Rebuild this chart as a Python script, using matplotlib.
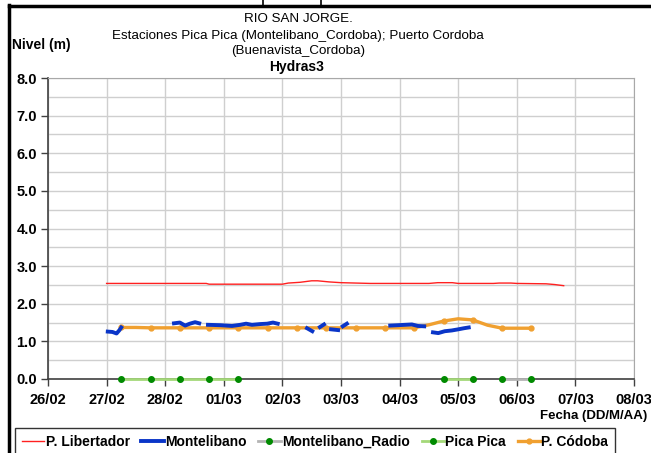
import datetime as dt

import matplotlib as mpl
import matplotlib.dates as mdates
import matplotlib.pyplot as plt
import numpy as np
from matplotlib.lines import Line2D

mpl.rcParams["font.family"] = ["Liberation Sans", "DejaVu Sans"]

START = dt.datetime(2023, 2, 26)

# time offsets are in days from 26/02 00:00
LIB_T = [1.0, 2.0, 2.7, 2.75, 3.5, 4.0, 4.1, 4.3, 4.5, 4.6, 4.8, 5.0, 5.5, 6.0, 6.5,
         6.65, 6.9, 7.0, 7.6, 7.7, 7.9, 8.0, 8.5, 8.65, 8.8]
LIB_V = [2.54, 2.54, 2.54, 2.52, 2.52, 2.52, 2.55, 2.57, 2.61, 2.61, 2.58, 2.56, 2.54, 2.54, 2.54,
         2.56, 2.56, 2.54, 2.54, 2.55, 2.55, 2.54, 2.53, 2.51, 2.48]

MONT_T = [1.02, 1.10, 1.17, 1.22, 1.25, 1.6,
          2.15, 2.25, 2.34, 2.42, 2.51, 2.58, 2.65,
          2.73, 2.94, 3.14, 3.28, 3.38, 3.48, 3.62, 3.74, 3.84, 3.92, 4.0,
          4.42, 4.51, 4.56,
          4.64, 4.71, 4.76,
          4.83, 4.95, 4.99,
          5.03, 5.10, 5.3,
          5.84, 5.97, 6.09, 6.21, 6.31, 6.42, 6.5,
          6.57, 6.66, 6.77, 6.89, 7.0, 7.10, 7.18]
MONT_V = [1.26, 1.25, 1.21, 1.30, 1.37, np.nan,
          1.48, 1.50, 1.42, 1.47, 1.51, 1.48, np.nan,
          1.44, 1.43, 1.41, 1.44, 1.47, 1.44, 1.46, 1.47, 1.50, 1.47, np.nan,
          1.35, 1.27, np.nan,
          1.38, 1.45, np.nan,
          1.32, 1.30, np.nan,
          1.40, 1.47, np.nan,
          1.42, 1.43, 1.44, 1.45, 1.41, 1.40, np.nan,
          1.24, 1.22, 1.27, 1.29, 1.32, 1.35, 1.37]

RADIO_T = [7.75, 8.25]
RADIO_V = [0.0, 0.0]

PICA_T = [1.25, 1.75, 2.25, 2.75, 3.25, 3.5, 6.75, 7.25]
PICA_V = [0.0, 0.0, 0.0, 0.0, 0.0, np.nan, 0.0, 0.0]

CORD_T = [1.25, 1.5, 1.75, 2.0, 2.25, 2.5, 2.75, 3.0, 3.25, 3.5, 3.75, 4.0, 4.25, 4.5, 4.75,
          5.0, 5.25, 5.5, 5.75, 6.0, 6.25, 6.5, 6.75, 7.0, 7.25, 7.5, 7.75, 8.0, 8.25]
CORD_V = [1.37, 1.37, 1.36, 1.36, 1.36, 1.36, 1.36, 1.36, 1.36, 1.36, 1.36, 1.36, 1.36, 1.36, 1.36,
          1.36, 1.36, 1.36, 1.36, 1.36, 1.36, 1.44, 1.54, 1.60, 1.57, 1.43, 1.35, 1.35, 1.35]

TITLE_LINES = ["RIO SAN JORGE.",
               "Estaciones Pica Pica (Montelibano_Cordoba); Puerto Cordoba",
               "(Buenavista_Cordoba)"]


def to_dates(offsets):
    return [START + dt.timedelta(days=d) for d in offsets]


W, H = 651, 453


def fx(px):
    return px / W


def fy(py):
    return 1 - py / H


fig = plt.figure(figsize=(W / 100, H / 100), dpi=100)
ax = fig.add_axes([fx(48), fy(379), fx(634) - fx(48), fy(78) - fy(379)])

ax.plot(to_dates(LIB_T), LIB_V, color="#FF2020", lw=1.0, label="P. Libertador", zorder=3)
ax.plot(to_dates(CORD_T), CORD_V, color="#F0A030", lw=2.4, marker="o", markersize=3.5,
        markevery=2, label="P. Códoba", zorder=3)
ax.plot(to_dates(MONT_T), MONT_V, color="#0A35C8", lw=2.8, label="Montelibano", zorder=4)
ax.plot(to_dates(PICA_T), PICA_V, color="#A4D879", lw=2.0, marker="o", markersize=4,
        markerfacecolor="#008A00", markeredgecolor="#008A00", label="Pica Pica", zorder=5,
        clip_on=False)
ax.plot(to_dates(RADIO_T), RADIO_V, color="#B4B4B4", lw=2.0, marker="o", markersize=4,
        markerfacecolor="#008A00", markeredgecolor="#008A00", label="Montelibano_Radio", zorder=5,
        clip_on=False)

ax.set_xlim(START, START + dt.timedelta(days=10))
ax.set_ylim(0, 8)
ax.xaxis.set_major_locator(mdates.DayLocator())
ax.xaxis.set_major_formatter(mdates.DateFormatter("%d/%m"))
ax.set_yticks(np.arange(0, 8.1, 1.0))
ax.set_yticks(np.arange(0.5, 8, 1.0), minor=True)
ax.yaxis.set_major_formatter(mpl.ticker.FormatStrFormatter("%.1f"))
ax.tick_params(axis="y", which="minor", length=0)
ax.tick_params(axis="both", which="major", length=5, width=1, color="#404040",
               labelsize=10.5, pad=3)
ax.tick_params(axis="x", pad=5)
for lbl in ax.get_xticklabels() + ax.get_yticklabels():
    lbl.set_fontweight("bold")
ax.grid(True, which="both", color="#CFCFCF", lw=1.0)
ax.set_axisbelow(True)
for side in ["left", "bottom"]:
    ax.spines[side].set_color("#404040")
    ax.spines[side].set_linewidth(1.2)
for side in ["top", "right"]:
    ax.spines[side].set_color("#A8A8A8")

for i, line in enumerate(TITLE_LINES):
    fig.text(fx(298), fy([19, 36, 51][i]), line, ha="center", va="center", fontsize=9.6)
fig.text(fx(297), fy(67), "Hydras3", ha="center", va="center", fontsize=10, fontweight="bold")
fig.text(fx(12), fy(45), "Nivel (m)", ha="left", va="center", fontsize=10, fontweight="bold")
fig.text(fx(647), fy(416), "Fecha (DD/M/AA)", ha="right", va="center", fontsize=9.5,
         fontweight="bold")

# outer chart frame (cropped screenshot)
fig.add_artist(Line2D([fx(9), fx(9)], [fy(5), 0], color="black", lw=2.5))
fig.add_artist(Line2D([fx(9), 1], [fy(6), fy(6)], color="black", lw=2.5))
fig.add_artist(Line2D([fx(263), fx(263)], [1, fy(6)], color="black", lw=1.2))
fig.add_artist(Line2D([fx(321), fx(321)], [1, fy(6)], color="black", lw=1.2))

order = ["P. Libertador", "Montelibano", "Montelibano_Radio", "Pica Pica", "P. Códoba"]
handles, labels = ax.get_legend_handles_labels()
hmap = dict(zip(labels, handles))
leg = fig.legend([hmap[k] for k in order], order, loc="upper left",
                 bbox_to_anchor=(fx(15), 0, fx(615) - fx(15), fy(428)), mode="expand",
                 ncol=5, fontsize=10, frameon=True, fancybox=False, edgecolor="black",
                 handlelength=1.6, handletextpad=0.1, columnspacing=0.8,
                 borderpad=0.5, borderaxespad=0)
leg.get_frame().set_linewidth(1.0)
for t in leg.get_texts():
    t.set_fontweight("bold")

fig.savefig("out.png", dpi=100)
